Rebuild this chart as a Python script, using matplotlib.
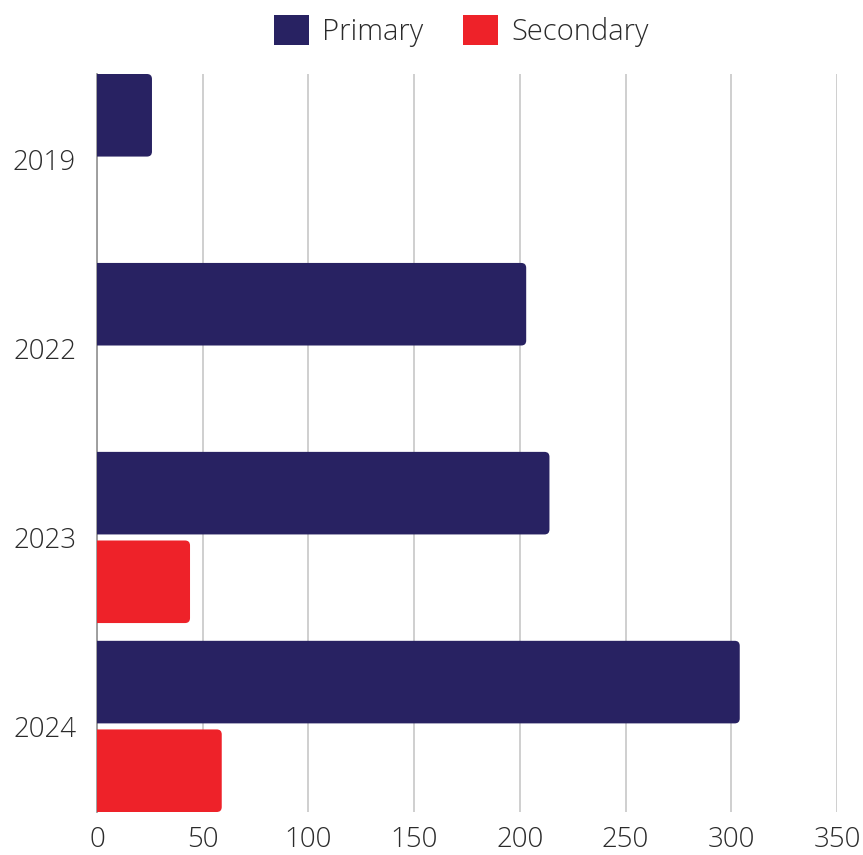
import numpy as np
from matplotlib import pyplot as plt
from matplotlib.patches import FancyBboxPatch, Patch

# data -----
years = ["2019", "2022", "2023", "2024"]
primary = [26, 203, 214, 304]
secondary = [0, 0, 44, 59]

navy = "#282262"
red = "#ee2229"
text_color = "#2b2b2b"

plt.rcParams["font.family"] = ["Open Sans", "DejaVu Sans"]

fig = plt.figure(figsize=(8.63, 8.55), dpi=100)
ax = fig.add_axes([97 / 863, 1 - 812 / 855, 740 / 863, 738 / 855])

bar_h = 0.437
offset = 0.2345
xmax = 350
ax.set_xlim(0, xmax)
ax.set_ylim(3.453, -0.453)

# rounded right corners: x px per unit / y px per unit
aspect = (740 / xmax) / (738 / 3.906)
radius = 5 / (740 / xmax)

y = np.arange(len(years))
for yi, vals, color, off in [(y, primary, navy, -offset), (y, secondary, red, offset)]:
    for pos, v in zip(yi, vals):
        if v <= 0:
            continue
        # start slightly left of zero so the left corners are clipped away
        patch = FancyBboxPatch((-10, pos + off - bar_h / 2), v + 10, bar_h,
                               boxstyle=f"round,pad=0,rounding_size={radius}",
                               mutation_aspect=aspect,
                               facecolor=color, edgecolor="none", zorder=3)
        ax.add_patch(patch)

ax.set_yticks(y)
ax.set_yticklabels(years)
ax.set_xticks(np.arange(0, xmax + 1, 50))
ax.tick_params(axis="both", length=0, labelsize=20, colors=text_color)
ax.tick_params(axis="y", pad=15)
ax.tick_params(axis="x", pad=10)
for lab in ax.get_xticklabels() + ax.get_yticklabels():
    lab.set_fontweight("light")

ax.grid(axis="x", color="#cccccc", linewidth=1.3, zorder=0)
ax.set_axisbelow(True)
for side in ["top", "right", "bottom"]:
    ax.spines[side].set_visible(False)
ax.spines["left"].set_color("#999999")
ax.spines["left"].set_linewidth(1.3)
ax.spines["left"].set_zorder(1)

handles = [Patch(facecolor=navy, label="Primary"),
           Patch(facecolor=red, label="Secondary")]
leg = fig.legend(handles=handles, loc="center", bbox_to_anchor=(0.535, 1 - 31 / 855),
                 ncol=2, frameon=False, handlelength=1.2,
                 handleheight=1.2, handletextpad=0.45, columnspacing=1.36,
                 prop={"weight": "light", "size": 21})
for t in leg.get_texts():
    t.set_color(text_color)

fig.savefig("out.png", dpi=100)
